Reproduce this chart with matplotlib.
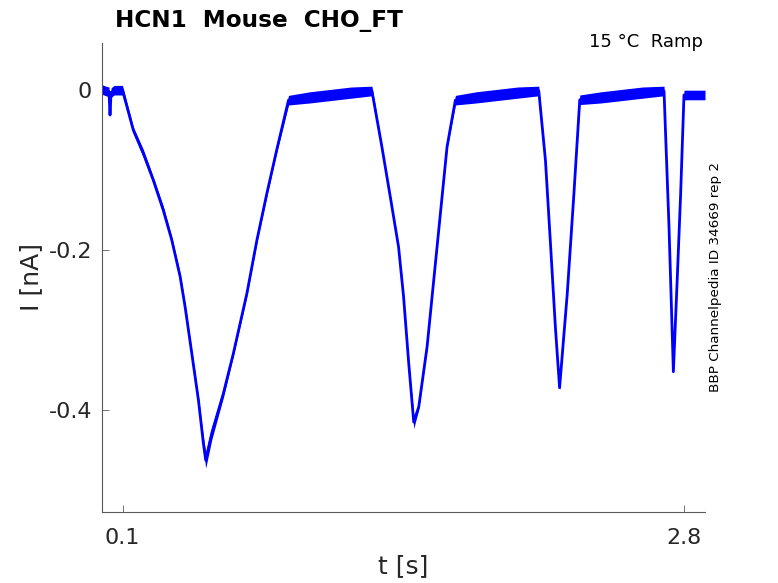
import matplotlib
matplotlib.use("Agg")
import matplotlib.pyplot as plt

# trace: time [s], current [nA]
t = [0.0, 0.02, 0.035, 0.04, 0.045, 0.06, 0.1,
     0.152, 0.2, 0.248, 0.296, 0.337, 0.377, 0.401, 0.433, 0.465, 0.489, 0.5,
     0.529, 0.585, 0.633, 0.698, 0.746, 0.794, 0.841, 0.898,
     1.0, 1.1, 1.2, 1.299,
     1.347, 1.387, 1.427, 1.451, 1.476, 1.5,
     1.524, 1.564, 1.612, 1.66, 1.7,
     1.8, 1.9, 2.0, 2.101,
     2.133, 2.157, 2.181, 2.201,
     2.238, 2.27, 2.298,
     2.4, 2.5, 2.6, 2.703,
     2.727, 2.748,
     2.767, 2.783, 2.799, 2.85, 2.9]
current = [0.001, -0.001, -0.002, -0.031, -0.003, 0.0, 0.0,
           -0.05, -0.079, -0.1125, -0.15, -0.1875, -0.233, -0.271, -0.329, -0.3875, -0.442, -0.4625,
           -0.429, -0.379, -0.329, -0.254, -0.1875, -0.129, -0.075, -0.0125,
           -0.009, -0.006, -0.003, -0.001,
           -0.071, -0.133, -0.196, -0.258, -0.342, -0.415,
           -0.396, -0.321, -0.196, -0.071, -0.0125,
           -0.009, -0.006, -0.003, -0.001,
           -0.0875, -0.191, -0.297, -0.372,
           -0.254, -0.129, -0.012,
           -0.009, -0.006, -0.003, -0.001,
           -0.171, -0.352,
           -0.233, -0.129, -0.006, -0.006, -0.006]
# half width of the noisy band around the trace
spread = [0.006, 0.006, 0.006, 0.003, 0.006, 0.006, 0.006,
          0.004, 0.005, 0.004, 0.005, 0.004, 0.004, 0.004, 0.004, 0.004, 0.008, 0.01,
          0.008, 0.005, 0.003, 0.003, 0.003, 0.003, 0.003, 0.006,
          0.007, 0.007, 0.007, 0.006,
          0.002, 0.002, 0.002, 0.002, 0.003, 0.008,
          0.003, 0.002, 0.002, 0.002, 0.006,
          0.007, 0.007, 0.007, 0.006,
          0.002, 0.002, 0.002, 0.003,
          0.002, 0.002, 0.006,
          0.007, 0.007, 0.007, 0.006,
          0.002, 0.002,
          0.002, 0.002, 0.006, 0.006, 0.006]

xticks = [0.1, 2.8]
xticklabels = ["0.1", "2.8"]
yticks = [0, -0.2, -0.4]
yticklabels = ["0", "-0.2", "-0.4"]

fig = plt.figure(figsize=(7.78, 5.83), dpi=100)
ax = fig.add_axes([101.7 / 778, 1 - 511.7 / 583, (705 - 101.7) / 778, (511.7 - 43) / 583])

lo = [c - s for c, s in zip(current, spread)]
hi = [c + s for c, s in zip(current, spread)]
ax.fill_between(t, lo, hi, color="#0000ff", lw=0)
ax.plot(t, current, color="#0000ff", lw=2.0)

ax.set_xlim(0, 2.9)
ax.set_ylim(-0.527, 0.059)
ax.set_xticks(xticks)
ax.set_xticklabels(xticklabels)
ax.set_yticks(yticks)
ax.set_yticklabels(yticklabels)

for s in ["top", "right"]:
    ax.spines[s].set_visible(False)
for s in ["left", "bottom"]:
    ax.spines[s].set_color("#5a5a5a")
    ax.spines[s].set_linewidth(0.8)
ax.tick_params(direction="in", length=5, width=0.6, color="#5a5a5a",
               labelsize=16, labelcolor="#262626")
ax.tick_params(axis="y", pad=7)
ax.tick_params(axis="x", pad=12)

ax.set_xlabel("t [s]", fontsize=18, color="#262626", labelpad=4)
ax.set_ylabel("I [nA]", fontsize=18, color="#262626", labelpad=4)

fig.text(115 / 778, 1 - 27 / 583, "HCN1  Mouse  CHO_FT", fontsize=16.7,
         fontweight="bold", ha="left", va="baseline")
fig.text(703 / 778, 1 - 47 / 583, "15 °C  Ramp", fontsize=13,
         ha="right", va="baseline")
fig.text(716 / 778, 1 - 277.5 / 583, "BBP Channelpedia ID 34669 rep 2",
         fontsize=9.7, rotation=90, ha="center", va="center")

fig.savefig("out.png", dpi=100)
